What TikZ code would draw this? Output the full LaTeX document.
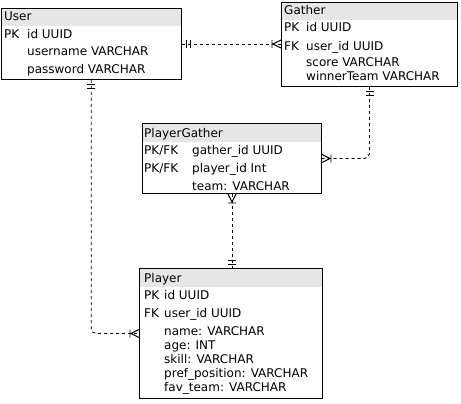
\documentclass[tikz,border=0pt]{standalone}
\usepackage{fontspec}
\setmainfont{DejaVu Sans}
\usetikzlibrary{calc}
\definecolor{hdrgray}{HTML}{E6E6E6}
\begin{document}
\begin{tikzpicture}[x=1pt,y=1pt,
  font=\fontsize{12}{14}\selectfont,
  tbl/.style={draw=black, line width=1pt, fill=white, rectangle, inner sep=0pt, anchor=north west,
    path picture={\fill[hdrgray] (path picture bounding box.north west) rectangle ([yshift=-18pt]path picture bounding box.north east);}},
  txt/.style={anchor=base west, inner sep=0pt},
  conn/.style={draw=black, line width=0.9pt, dash pattern=on 3pt off 3pt},
  one/.pic={\draw[line width=0.9pt] (-4,-4)--(-4,4) (-8,-4)--(-8,4);},
  many/.pic={\draw[line width=0.9pt] (-9,-4)--(-9,4) (0,4)--(-8,0)--(0,-4);}
]
\useasboundingbox[fill=white] (0,0) rectangle (461,-404);

% tables
\node[tbl, minimum width=180.5pt, minimum height=71pt] (user) at (0.5,-8) {};
\node[tbl, minimum width=176pt, minimum height=84pt] (gather) at (281,-2) {};
\node[tbl, minimum width=179pt, minimum height=70pt] (pg) at (142,-123) {};
\node[tbl, minimum width=183pt, minimum height=130pt] (player) at (139,-268) {};

% User
\node[txt] (u0) at (4,-21) {User};
\node[txt] (u1) at (4,-39) {PK};
\node[txt] (u2) at (27,-39) {id UUID};
\node[txt] (u3) at (27,-56) {username VARCHAR};
\node[txt] (u4) at (27,-74) {password VARCHAR};

% Gather
\node[txt] (g0) at (284,-15) {Gather};
\node[txt] (g1) at (284,-32) {PK};
\node[txt] (g2) at (306,-32) {id UUID};
\node[txt] (g3) at (284,-51) {FK};
\node[txt] (g4) at (306,-51) {user\_id UUID};
\node[txt] (g5) at (306,-67) {score VARCHAR};
\node[txt] (g6) at (306,-81) {winnerTeam VARCHAR};

% PlayerGather
\node[txt] (p0) at (144,-137) {PlayerGather};
\node[txt] (p1) at (144,-154) {PK/FK};
\node[txt] (p2) at (192,-154) {gather\_id UUID};
\node[txt] (p3) at (144,-172) {PK/FK};
\node[txt] (p4) at (192,-172) {player\_id Int};
\node[txt] (p5) at (192,-190) {team: VARCHAR};

% Player
\node[txt] (q0) at (144,-282) {Player};
\node[txt] (q1) at (144,-299) {PK};
\node[txt] (q2) at (164,-299) {id UUID};
\node[txt] (q3) at (144,-317) {FK};
\node[txt] (q4) at (164,-317) {user\_id UUID};
\node[txt] (q5) at (164,-335) {name: VARCHAR};
\node[txt] (q6) at (164,-349) {age: INT};
\node[txt] (q7) at (164,-363) {skill: VARCHAR};
\node[txt] (q8) at (164,-377) {pref\_position: VARCHAR};
\node[txt] (q9) at (164,-391) {fav\_team: VARCHAR};

% connectors
\coordinate (ugend) at (user.east -| gather.west);
\draw[conn] (user.east) -- (ugend);
\pic[rotate=180] at (user.east) {one};
\pic at (ugend) {many};

\draw[conn, rounded corners=5pt] (gather.south) |- (pg.east);
\pic[rotate=90] at (gather.south) {one};
\pic[rotate=180] at (pg.east) {many};

\coordinate (ppend) at (pg.south |- player.north);
\draw[conn] (pg.south) -- (ppend);
\pic[rotate=90] at (pg.south) {many};
\pic[rotate=-90] at (ppend) {one};

\draw[conn, rounded corners=5pt] (user.south) |- (player.west);
\pic[rotate=90] at (user.south) {one};
\pic at (player.west) {many};
\end{tikzpicture}
\end{document}
